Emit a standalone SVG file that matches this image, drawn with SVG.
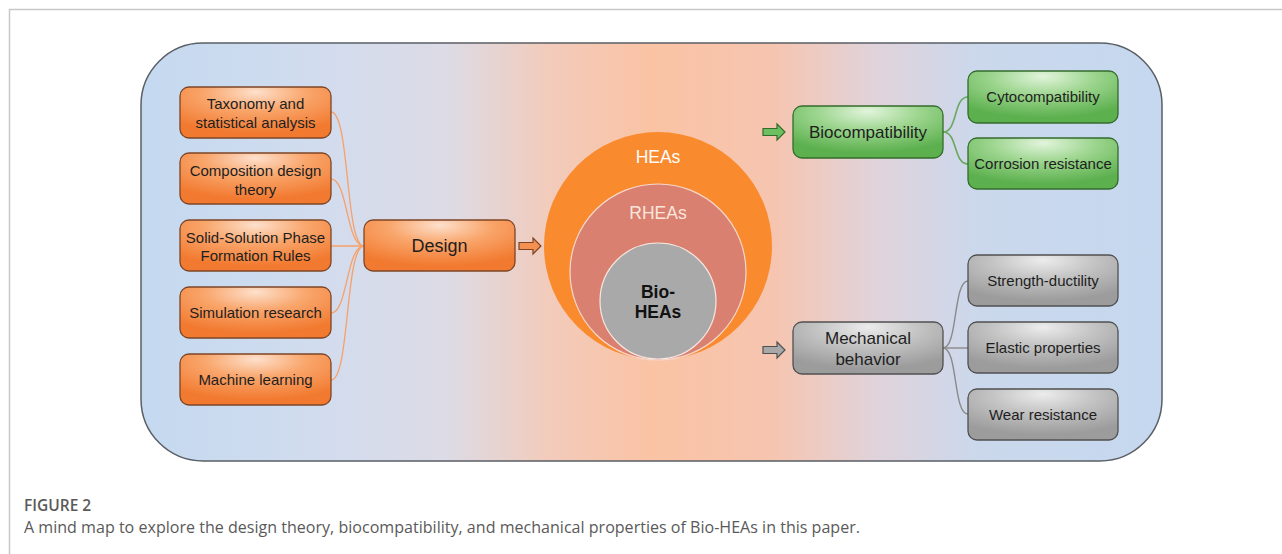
<svg xmlns="http://www.w3.org/2000/svg" width="1282" height="554" viewBox="0 0 1282 554">
  <defs>
    <linearGradient id="panelBg" x1="0" y1="0" x2="1" y2="0">
      <stop offset="0" stop-color="#c4d9f0"/>
      <stop offset="0.18" stop-color="#d2dcee"/>
      <stop offset="0.3" stop-color="#dddbe6"/>
      <stop offset="0.4" stop-color="#f2cbbb"/>
      <stop offset="0.5" stop-color="#fac3a4"/>
      <stop offset="0.62" stop-color="#f6c5b0"/>
      <stop offset="0.72" stop-color="#e0d3db"/>
      <stop offset="0.82" stop-color="#cbd8ec"/>
      <stop offset="1" stop-color="#c5d8ef"/>
    </linearGradient>
    <radialGradient id="orangeFill" cx="0.5" cy="0.15" r="0.75" fx="0.5" fy="0.1">
      <stop offset="0" stop-color="#fde0cc"/>
      <stop offset="0.45" stop-color="#f9a66c"/>
      <stop offset="1" stop-color="#f27a30"/>
    </radialGradient>
    <radialGradient id="greenFill" cx="0.5" cy="0.15" r="0.75" fx="0.5" fy="0.1">
      <stop offset="0" stop-color="#e2f4dc"/>
      <stop offset="0.45" stop-color="#9ed690"/>
      <stop offset="1" stop-color="#5cb04e"/>
    </radialGradient>
    <radialGradient id="grayFill" cx="0.5" cy="0.15" r="0.75" fx="0.5" fy="0.1">
      <stop offset="0" stop-color="#ececec"/>
      <stop offset="0.45" stop-color="#c4c4c4"/>
      <stop offset="1" stop-color="#9c9c9c"/>
    </radialGradient>
    <path id="blockArrow" d="M0,-3.5 H14 V-8 L22,0 L14,8 V3.5 H0 Z"/>
  </defs>
  <style>
    .box { stroke-width: 1.3; }
    .orange { fill: url(#orangeFill); stroke: #7d4526; }
    .green { fill: url(#greenFill); stroke: #356b2c; }
    .gray { fill: url(#grayFill); stroke: #505050; }
    .lbl { font-family: "Liberation Sans", Arial, sans-serif; fill: #1e1e1e; text-anchor: middle; }
    .s14 { font-size: 15px; }
    .s17 { font-size: 18px; }
    .circ { font-family: "Liberation Sans", Arial, sans-serif; font-size: 17.5px; text-anchor: middle; }
    .link-o { fill: none; stroke: #f7a06a; stroke-width: 1.3; }
    .link-g { fill: none; stroke: #6aa860; stroke-width: 1.6; }
    .link-k { fill: none; stroke: #8a8a8a; stroke-width: 1.4; }
    .cap { font-family: "Open Sans", "Liberation Sans", sans-serif; fill: #5a5a5a; }
  </style>

  <rect width="1282" height="554" fill="#ffffff"/>
  <!-- page frame -->
  <path d="M9.5,554 V9.5 H1282" fill="none" stroke="#c8c8c8" stroke-width="1.5"/>

  <!-- background panel -->
  <rect id="panel" x="141" y="43" width="1021" height="418" rx="62" ry="62" fill="url(#panelBg)" stroke="#5a5f66" stroke-width="1.5"/>

  <!-- connectors -->
  <g id="connectors">
    <path class="link-o" d="M331,112 C350,112 345,246 364,246"/>
    <path class="link-o" d="M331,179 C348,179 346,246 364,246"/>
    <path class="link-o" d="M331,246 H364"/>
    <path class="link-o" d="M331,313 C348,313 346,246 364,246"/>
    <path class="link-o" d="M331,380 C350,380 345,246 364,246"/>
    <use href="#blockArrow" x="519" y="246" fill="#f59150" stroke="#7d4526" stroke-width="1.2"/>
    <use href="#blockArrow" x="763" y="132" fill="#6cc060" stroke="#356b2c" stroke-width="1.2"/>
    <use href="#blockArrow" x="763" y="350" fill="#a8a8a8" stroke="#505050" stroke-width="1.2"/>
    <path class="link-g" d="M943,132 C958,132 953,97 968,97"/>
    <path class="link-g" d="M943,132 C958,132 953,164 968,164"/>
    <path class="link-k" d="M943,348 C958,348 953,281 968,281"/>
    <path class="link-k" d="M943,348 H968"/>
    <path class="link-k" d="M943,348 C958,348 953,414 968,414"/>
  </g>

  <!-- design inputs -->
  <g id="taxonomy">
    <rect class="box orange" x="180" y="87" width="151" height="51" rx="9"/>
    <text class="lbl s14" x="255.5" y="109">Taxonomy and</text>
    <text class="lbl s14" x="255.5" y="128">statistical analysis</text>
  </g>
  <g id="composition">
    <rect class="box orange" x="180" y="153" width="151" height="51" rx="9"/>
    <text class="lbl s14" x="255.5" y="176">Composition design</text>
    <text class="lbl s14" x="255.5" y="195">theory</text>
  </g>
  <g id="solid-solution">
    <rect class="box orange" x="180" y="220" width="151" height="51" rx="9"/>
    <text class="lbl s14" x="255.5" y="243">Solid-Solution Phase</text>
    <text class="lbl s14" x="255.5" y="261">Formation Rules</text>
  </g>
  <g id="simulation">
    <rect class="box orange" x="180" y="287" width="151" height="51" rx="9"/>
    <text class="lbl s14" x="255.5" y="318">Simulation research</text>
  </g>
  <g id="machine-learning">
    <rect class="box orange" x="180" y="354" width="151" height="51" rx="9"/>
    <text class="lbl s14" x="255.5" y="385">Machine learning</text>
  </g>
  <g id="design">
    <rect class="box orange" x="364" y="220" width="151" height="51" rx="9"/>
    <text class="lbl s17" x="439.5" y="252">Design</text>
  </g>

  <!-- nested alloy families -->
  <g id="alloys">
    <circle cx="658" cy="246" r="114" fill="#fa8a2e"/>
    <circle cx="658" cy="272" r="88" fill="#d98071" stroke="#f6d8cc" stroke-width="1.2"/>
    <circle cx="658" cy="301" r="58" fill="#a9a9a9" stroke="#f6e6e0" stroke-width="1.2"/>
    <text class="circ" x="658" y="163" fill="#ffffff">HEAs</text>
    <text class="circ" x="658" y="219" fill="#fbe6dc">RHEAs</text>
    <text class="circ" x="658" y="298" fill="#111111" font-weight="bold">Bio-</text>
    <text class="circ" x="658" y="318" fill="#111111" font-weight="bold">HEAs</text>
  </g>

  <!-- biocompatibility branch -->
  <g id="biocompatibility">
    <rect class="box green" x="793" y="106" width="150" height="52" rx="9"/>
    <text class="lbl" x="868" y="138" font-size="17">Biocompatibility</text>
  </g>
  <g id="cytocompatibility">
    <rect class="box green" x="968" y="71" width="150" height="52" rx="9"/>
    <text class="lbl s14" x="1043" y="102">Cytocompatibility</text>
  </g>
  <g id="corrosion">
    <rect class="box green" x="968" y="138" width="150" height="51" rx="9"/>
    <text class="lbl s14" x="1043" y="169">Corrosion resistance</text>
  </g>

  <!-- mechanical branch -->
  <g id="mechanical">
    <rect class="box gray" x="793" y="322" width="150" height="52" rx="9"/>
    <text class="lbl" x="868" y="344" font-size="17">Mechanical</text>
    <text class="lbl" x="868" y="365" font-size="17">behavior</text>
  </g>
  <g id="strength">
    <rect class="box gray" x="968" y="255" width="150" height="51" rx="9"/>
    <text class="lbl s14" x="1043" y="286">Strength-ductility</text>
  </g>
  <g id="elastic">
    <rect class="box gray" x="968" y="322" width="150" height="51" rx="9"/>
    <text class="lbl s14" x="1043" y="353">Elastic properties</text>
  </g>
  <g id="wear">
    <rect class="box gray" x="968" y="389" width="150" height="51" rx="9"/>
    <text class="lbl s14" x="1043" y="420">Wear resistance</text>
  </g>

  <!-- caption -->
  <text class="cap" x="24" y="511" font-size="15.5" font-weight="600" fill="#505050">FIGURE 2</text>
  <text class="cap" x="24" y="533" font-size="15.5" fill="#626262" textLength="836" lengthAdjust="spacingAndGlyphs">A mind map to explore the design theory, biocompatibility, and mechanical properties of Bio-HEAs in this paper.</text>
</svg>
